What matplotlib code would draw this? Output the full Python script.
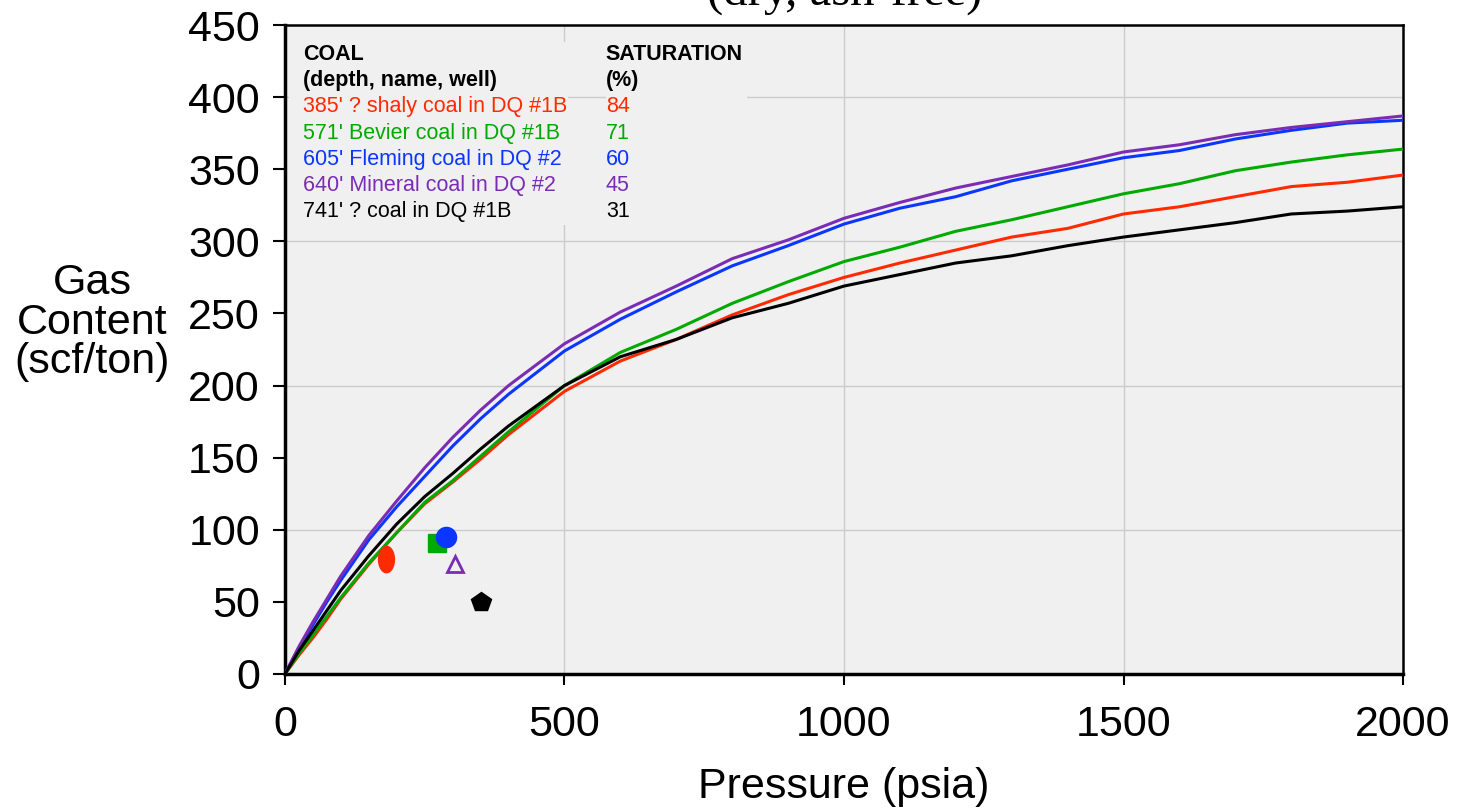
import numpy as np
import matplotlib
matplotlib.use('Agg')
import matplotlib.pyplot as plt
from matplotlib.patches import Rectangle

plt.rcParams['font.family'] = ['Liberation Sans', 'DejaVu Sans']

# isotherm pressures (psia)
pressure = [0, 25, 50, 75, 100, 150, 200, 250, 300, 350, 400, 500, 600, 700, 800,
            900, 1000, 1100, 1200, 1300, 1400, 1500, 1600, 1700, 1800, 1900, 2000]

# gas content (scf/ton), one list per coal
gc_shaly = [0, 13, 25, 38, 52, 76, 98, 118, 133, 149, 166, 196, 217, 232, 249,
            263, 275, 285, 294, 303, 309, 319, 324, 331, 338, 341, 346]
gc_bevier = [0, 14, 27, 40, 53, 77, 98, 119, 134, 151, 168, 200, 223, 239, 257,
             272, 286, 296, 307, 315, 324, 333, 340, 349, 355, 360, 364]
gc_fleming = [0, 18, 34, 50, 65, 93, 116, 137, 158, 177, 194, 224, 246, 265, 283,
              297, 312, 323, 331, 342, 350, 358, 363, 371, 377, 382, 384]
gc_mineral = [0, 19, 36, 52, 68, 96, 120, 143, 164, 183, 200, 229, 251, 269, 288,
              301, 316, 327, 337, 345, 353, 362, 367, 374, 379, 383, 387]
gc_741 = [0, 16, 30, 44, 58, 82, 104, 123, 139, 156, 172, 200, 220, 232, 247,
          257, 269, 277, 285, 290, 297, 303, 308, 313, 319, 321, 324]

# measured (desorbed) samples
sample_p = [181, 272, 289, 305, 351]
sample_gc = [80, 91, 95, 76, 50]

coal_labels = ["385' ? shaly coal in DQ #1B", "571' Bevier coal in DQ #1B",
               "605' Fleming coal in DQ #2", "640' Mineral coal in DQ #2",
               "741' ? coal in DQ #1B"]
saturation = ['84', '71', '60', '45', '31']
colors = ['#ff2a00', '#00aa00', '#0a36ff', '#7a2db4', '#000000']
curves = [gc_shaly, gc_bevier, gc_fleming, gc_mineral, gc_741]

fig = plt.figure(figsize=(14.71, 8.09), dpi=100)
ax = fig.add_axes([0.1937, 0.1669, 0.7601, 0.8021])
ax.set_facecolor('#f0f0f0')

for ys, c in zip(curves, colors):
    ax.plot(pressure, ys, color=c, lw=2.2, zorder=3)

# sample markers
t = np.linspace(0, 2 * np.pi, 40)
ellipse = np.column_stack([0.6 * np.cos(t), np.sin(t)])
ax.plot(sample_p[0], sample_gc[0], marker=ellipse, ms=19, color=colors[0], ls='none', zorder=4)
ax.plot(sample_p[1], sample_gc[1], marker='s', ms=13, color=colors[1], ls='none', zorder=4)
ax.plot(sample_p[2], sample_gc[2], marker='o', ms=14.5, color=colors[2], ls='none', zorder=5)
ax.plot(sample_p[3], sample_gc[3], marker='^', ms=12, mfc='none', mec=colors[3], mew=2,
        ls='none', zorder=4)
ax.plot(sample_p[4], sample_gc[4], marker='p', ms=15, color=colors[4], ls='none', zorder=4)

ax.set_xlim(0, 2000)
ax.set_ylim(0, 450)
ax.set_xticks(range(0, 2001, 500))
ax.set_yticks(range(0, 451, 50))
for yv in range(100, 401, 100):
    ax.axhline(yv, color='#cccccc', lw=1, zorder=1)
for xv in range(500, 2000, 500):
    ax.axvline(xv, color='#cccccc', lw=1, zorder=1)
ax.tick_params(axis='both', which='major', labelsize=31, direction='out', width=1.5)
ax.tick_params(axis='y', length=9, pad=9)
ax.tick_params(axis='x', length=8, pad=14)

for side in ['top', 'right']:
    ax.spines[side].set_linewidth(1.8)
for side in ['left', 'bottom']:
    ax.spines[side].set_linewidth(2.5)

ax.set_xlabel('Pressure (psia)', fontsize=31, labelpad=16)
fig.text(0.0625, 0.601, 'Gas\nContent\n(scf/ton)', fontsize=31, ha='center', va='center',
         linespacing=0.98)

# legend-like table in upper left
ax.add_patch(Rectangle((0.004, 0.692), 0.249, 0.282, transform=ax.transAxes,
                       facecolor='#f0f0f0', edgecolor='none', zorder=2))
ax.add_patch(Rectangle((0.287, 0.692), 0.126, 0.282, transform=ax.transAxes,
                       facecolor='#f0f0f0', edgecolor='none', zorder=2))
x1, x2 = 0.016, 0.287
y0, dy = 0.955, 0.0405
ax.text(x1, y0, 'COAL', transform=ax.transAxes, fontsize=15.5, fontweight='bold', va='center', zorder=6)
ax.text(x1, y0 - dy, '(depth, name, well)', transform=ax.transAxes, fontsize=15.5,
        fontweight='bold', va='center', zorder=6)
ax.text(x2, y0, 'SATURATION', transform=ax.transAxes, fontsize=15.5, fontweight='bold', va='center', zorder=6)
ax.text(x2, y0 - dy, '(%)', transform=ax.transAxes, fontsize=15.5, fontweight='bold', va='center', zorder=6)
for i, (lab, sat, c) in enumerate(zip(coal_labels, saturation, colors)):
    yy = y0 - (i + 2) * dy
    ax.text(x1, yy, lab, transform=ax.transAxes, fontsize=15.5, color=c, va='center', zorder=6)
    ax.text(x2, yy, sat, transform=ax.transAxes, fontsize=15.5, color=c, va='center', zorder=6)

# title, cut off at top of the picture
fig.text(0.574, 1 - 5 / 809, '(dry, ash-free)', fontsize=35, ha='center', va='baseline',
         family=['Liberation Serif', 'DejaVu Serif'])

fig.savefig('out.png', dpi=100)
